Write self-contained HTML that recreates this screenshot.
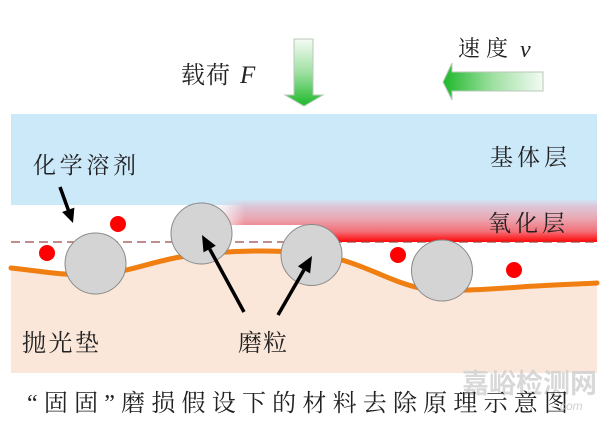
<!DOCTYPE html>
<html>
<head>
<meta charset="utf-8">
<style>
html,body{margin:0;padding:0;background:#fff;}
svg{display:block;}
.cn{font-family:"Liberation Serif","Noto Serif CJK SC",serif;fill:#222;}
</style>
</head>
<body>
<svg width="612" height="427" viewBox="0 0 612 427" xmlns="http://www.w3.org/2000/svg">
<defs>
  <linearGradient id="gDown" x1="0" y1="0" x2="0" y2="1">
    <stop offset="0" stop-color="#f4fbf4"/>
    <stop offset="0.5" stop-color="#9fe0a2"/>
    <stop offset="1" stop-color="#1db82a"/>
  </linearGradient>
  <linearGradient id="gLeft" x1="0" y1="0" x2="1" y2="0">
    <stop offset="0" stop-color="#1db82a"/>
    <stop offset="0.5" stop-color="#9fe0a2"/>
    <stop offset="1" stop-color="#f4fbf4"/>
  </linearGradient>
  <linearGradient id="gOx" x1="0" y1="200" x2="0" y2="242" gradientUnits="userSpaceOnUse">
    <stop offset="0" stop-color="#cfe4f3"/>
    <stop offset="0.15" stop-color="#dcc6d6"/>
    <stop offset="0.45" stop-color="#eaa6b1"/>
    <stop offset="0.75" stop-color="#f27078"/>
    <stop offset="1" stop-color="#ff0505"/>
  </linearGradient>
  <linearGradient id="gFade" x1="215" y1="0" x2="245" y2="0" gradientUnits="userSpaceOnUse">
    <stop offset="0" stop-color="#000"/>
    <stop offset="1" stop-color="#fff"/>
  </linearGradient>
  <mask id="mOx">
    <rect x="0" y="0" width="612" height="427" fill="url(#gFade)"/>
  </mask>
</defs>

<!-- substrate (blue) -->
<rect x="11" y="114" width="586" height="91" fill="#cce9fa"/>

<!-- oxide layer -->
<g mask="url(#mOx)">
  <rect x="215" y="200" width="382" height="42" fill="url(#gOx)"/>
</g>
<!-- white cut under oxide left part -->
<rect x="210" y="225" width="100" height="17" fill="#fff"/>

<!-- polishing pad -->
<path d="M11,268 C40,271 60,275 90,275 C120,275 150,262 180,257 C205,253 230,251 260,251 C290,251 320,253 342,260 C370,268 395,283 420,288 C445,292 480,290 520,287 C550,285 580,284 597,283 L597,373 L11,373 Z" fill="#fbe7d9"/>
<path d="M11,268 C40,271 60,275 90,275 C120,275 150,262 180,257 C205,253 230,251 260,251 C290,251 320,253 342,260 C370,268 395,283 420,288 C445,292 480,290 520,287 C550,285 580,284 597,283" fill="none" stroke="#f07e10" stroke-width="5" stroke-linecap="round"/>

<!-- dashed line -->
<line x1="11" y1="242" x2="597" y2="242" stroke="#9b4848" stroke-width="1.3" stroke-dasharray="9,5"/>

<!-- red dots -->
<circle cx="47" cy="253" r="8" fill="#ff0000"/>
<circle cx="118" cy="224" r="8" fill="#ff0000"/>
<circle cx="398" cy="255" r="8" fill="#ff0000"/>
<circle cx="514" cy="270" r="8" fill="#ff0000"/>

<!-- particles -->
<g fill="#d4d4d4" stroke="#8a8a8a" stroke-width="1">
  <circle cx="95.5" cy="263.5" r="30.5"/>
  <circle cx="201.5" cy="233.5" r="30.5"/>
  <circle cx="311.5" cy="255" r="30.5"/>
  <circle cx="442" cy="270.5" r="30.5"/>
</g>

<!-- black arrows -->
<g stroke="#000" stroke-width="3.5" stroke-linecap="butt">
  <line x1="60" y1="187" x2="68.5" y2="210.5"/>
  <line x1="244" y1="312" x2="209.7" y2="249"/>
  <line x1="278" y1="315" x2="304" y2="269.9"/>
</g>
<g fill="#000">
  <polygon points="73,223 74.4,207.6 62.1,212"/>
  <polygon points="202,235 215.8,245.7 203.5,252.4"/>
  <polygon points="312,256 310.1,273.4 297.9,266.4"/>
</g>

<!-- green arrows -->
<path d="M294,39 L313,39 L313,95 L323,95 L304,106 L285,95 L294,95 Z" fill="url(#gDown)" stroke="#b8c8b8" stroke-width="1"/>
<path d="M543,72 L543,91 L452,91 L452,100 L443,82 L452,63 L452,72 Z" fill="url(#gLeft)" stroke="#b8c8b8" stroke-width="1"/>

<!-- labels -->
<text class="cn" x="181" y="83" font-size="24" textLength="49" lengthAdjust="spacing">载荷</text>
<text x="240" y="83" font-size="25" font-style="italic" font-family="Liberation Serif, serif" fill="#222">F</text>
<text class="cn" x="458" y="56" font-size="22" textLength="50" lengthAdjust="spacing">速度</text>
<text x="520" y="57" font-size="24" font-style="italic" font-family="Liberation Serif, serif" fill="#222">v</text>
<text class="cn" x="33" y="173" font-size="23" textLength="103" lengthAdjust="spacing">化学溶剂</text>
<text class="cn" x="490" y="165" font-size="23" textLength="77" lengthAdjust="spacing">基体层</text>
<text class="cn" x="488" y="231" font-size="23" textLength="77" lengthAdjust="spacing">氧化层</text>
<text class="cn" x="22" y="351" font-size="24" textLength="77" lengthAdjust="spacing">抛光垫</text>
<text class="cn" x="238" y="351" font-size="24" textLength="49" lengthAdjust="spacing">磨粒</text>

<!-- watermark -->
<text x="462" y="393" font-size="27" font-weight="bold" font-family="Liberation Sans, 'Noto Sans CJK SC', sans-serif" fill="#cfcfcf" opacity="0.8" textLength="135" lengthAdjust="spacing">嘉峪检测网</text>

<!-- caption -->
<text class="cn" x="27" y="411" font-size="24" textLength="541" lengthAdjust="spacing">“固固”磨损假设下的材料去除原理示意图</text>
<text x="560" y="410" font-size="12" font-style="italic" font-family="Liberation Sans, sans-serif" fill="#bbb" opacity="0.7">com</text>
</svg>
</body>
</html>
